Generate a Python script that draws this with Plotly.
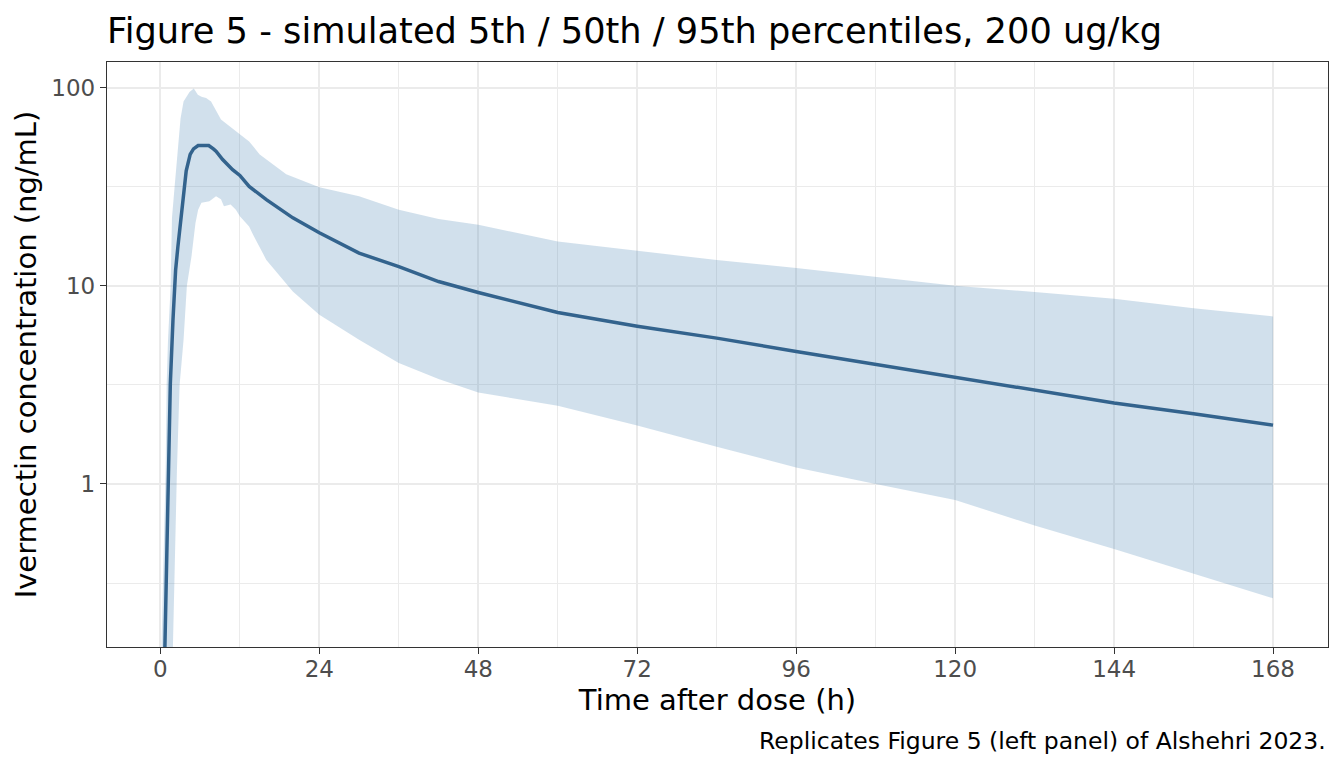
import plotly.graph_objects as go

# simulated percentiles (ng/mL)
t_p95 = [0.1, 0.5, 0.8, 0.95, 1.15, 1.55, 1.75, 2.15, 2.65, 3.05, 3.5, 4.4, 5.05, 5.65, 6.2, 6.9, 7.65,
         8.4, 9.15, 10.4, 12.1, 13.4, 15, 16, 19, 24, 30, 36, 42, 48, 60, 72, 84, 96, 108, 120, 132, 144, 156, 168]
conc_p95 = [0.12, 0.45, 1.2, 3.2, 5.3, 10, 22, 31.6, 47.7, 70, 85, 95, 99, 92, 90, 88.7, 85,
            76, 69, 64, 58, 53.5, 46, 43.3, 36.5, 31.4, 28.3, 24.2, 21.7, 20.3, 16.7, 15.0, 13.5, 12.3, 11.1, 10.0, 9.3, 8.6, 7.7, 7.0]

t_p05 = [1.5, 1.9, 2.5, 2.9, 3.5, 4.0, 4.7, 5.3, 5.7, 6.2, 7.4, 8.4, 9.15, 9.6, 10.6, 11.4, 12, 13.4, 14, 16,
         20, 24, 30, 36, 42, 48, 60, 72, 84, 96, 108, 120, 132, 144, 156, 168]
conc_p05 = [0.04, 0.15, 1.18, 3.16, 5.34, 10, 14.1, 20.7, 24.2, 26.2, 26.7, 28.3, 27.3, 25.2, 25.7, 24.2, 22.4, 19.9, 18.1, 13.5,
            9.36, 7.14, 5.34, 4.07, 3.38, 2.89, 2.48, 1.97, 1.54, 1.21, 1.0, 0.83, 0.616, 0.47, 0.354, 0.265]

t_p50 = [0.25, 0.6, 0.85, 1.1, 1.5, 1.9, 2.3, 2.65, 3.15, 3.5, 3.9, 4.5, 5.0, 5.7, 7.3, 8.0, 8.4, 9.4, 10.9, 12, 13.4,
         16, 20, 24, 30, 36, 42, 48, 60, 72, 84, 96, 108, 120, 132, 144, 156, 168]
conc_p50 = [0.03, 0.12, 0.4, 1.0, 3.2, 6.7, 12.0, 15.8, 22.5, 31, 38, 46, 49, 51, 51, 49, 47.7, 43.3, 38.5, 36.0, 31.7,
            27.2, 22.0, 18.5, 14.6, 12.5, 10.5, 9.25, 7.33, 6.25, 5.44, 4.66, 4.02, 3.46, 2.97, 2.56, 2.26, 1.98]

x_ticks = [0, 24, 48, 72, 96, 120, 144, 168]
x_minor = [12, 36, 60, 84, 108, 132, 156]
y_ticks = [1, 10, 100]
y_tick_labels = ['1', '10', '100']
y_minor = [0.316, 3.16, 31.6]

band_trace = go.Scatter(
    x=t_p95 + t_p05[::-1],
    y=conc_p95 + conc_p05[::-1],
    fill='toself',
    fillcolor='rgba(70,130,180,0.25)',
    line=dict(width=0),
    mode='lines',
    hoverinfo='none'
)

median_trace = go.Scatter(
    x=t_p50, y=conc_p50,
    mode='lines',
    line=dict(color='#33638D', width=3.5),
    hoverinfo='none'
)

fig = go.Figure(data=[band_trace, median_trace])

# page has an 8px body margin, so the figure is 8px smaller than the window
grid = '#EBEBEB'
fig.update_layout(
    width=1336, height=760,
    margin=dict(l=99, r=16, t=54, b=121),
    paper_bgcolor='white', plot_bgcolor='white',
    showlegend=False,
    font=dict(family='DejaVu Sans', color='black'),
    title=dict(text='Figure 5 - simulated 5th / 50th / 95th percentiles, 200 ug/kg',
               x=0, xref='paper', xanchor='left',
               y=1 - 23 / 760, yref='container', yanchor='middle',
               font=dict(size=35.2, color='black')),
    xaxis=dict(
        range=[-8.06, 176.3],
        tickmode='array', tickvals=x_ticks,
        ticks='outside', ticklen=6, tickwidth=1.3, tickcolor='#333333',
        tickfont=dict(size=23, color='#4D4D4D'),
        ticklabelstandoff=-5,
        showgrid=True, gridcolor=grid, gridwidth=2,
        minor=dict(tickmode='array', tickvals=x_minor, showgrid=True, gridcolor=grid, gridwidth=1, ticks=''),
        zeroline=False,
        showline=True, linecolor='#333333', linewidth=1.3, mirror=True,
        title=dict(text='Time after dose (h)', font=dict(size=29, color='black'), standoff=8),
    ),
    yaxis=dict(
        type='log',
        range=[-0.823, 2.129],
        tickmode='array', tickvals=y_ticks, ticktext=y_tick_labels,
        ticks='outside', ticklen=6, tickwidth=1.3, tickcolor='#333333',
        tickfont=dict(size=23, color='#4D4D4D'),
        showgrid=True, gridcolor=grid, gridwidth=2,
        minor=dict(tickmode='array', tickvals=y_minor, showgrid=True, gridcolor=grid, gridwidth=1, ticks=''),
        zeroline=False,
        showline=True, linecolor='#333333', linewidth=1.3, mirror=True,
        title=dict(text='Ivermectin concentration (ng/mL)', font=dict(size=29, color='black'), standoff=6),
    ),
    annotations=[dict(
        text='Replicates Figure 5 (left panel) of Alshehri 2023.',
        xref='paper', yref='paper', x=1, y=-0.1607,
        xanchor='right', yanchor='middle', showarrow=False,
        font=dict(size=23.5, color='black')
    )]
)

fig.write_html("out.html")
